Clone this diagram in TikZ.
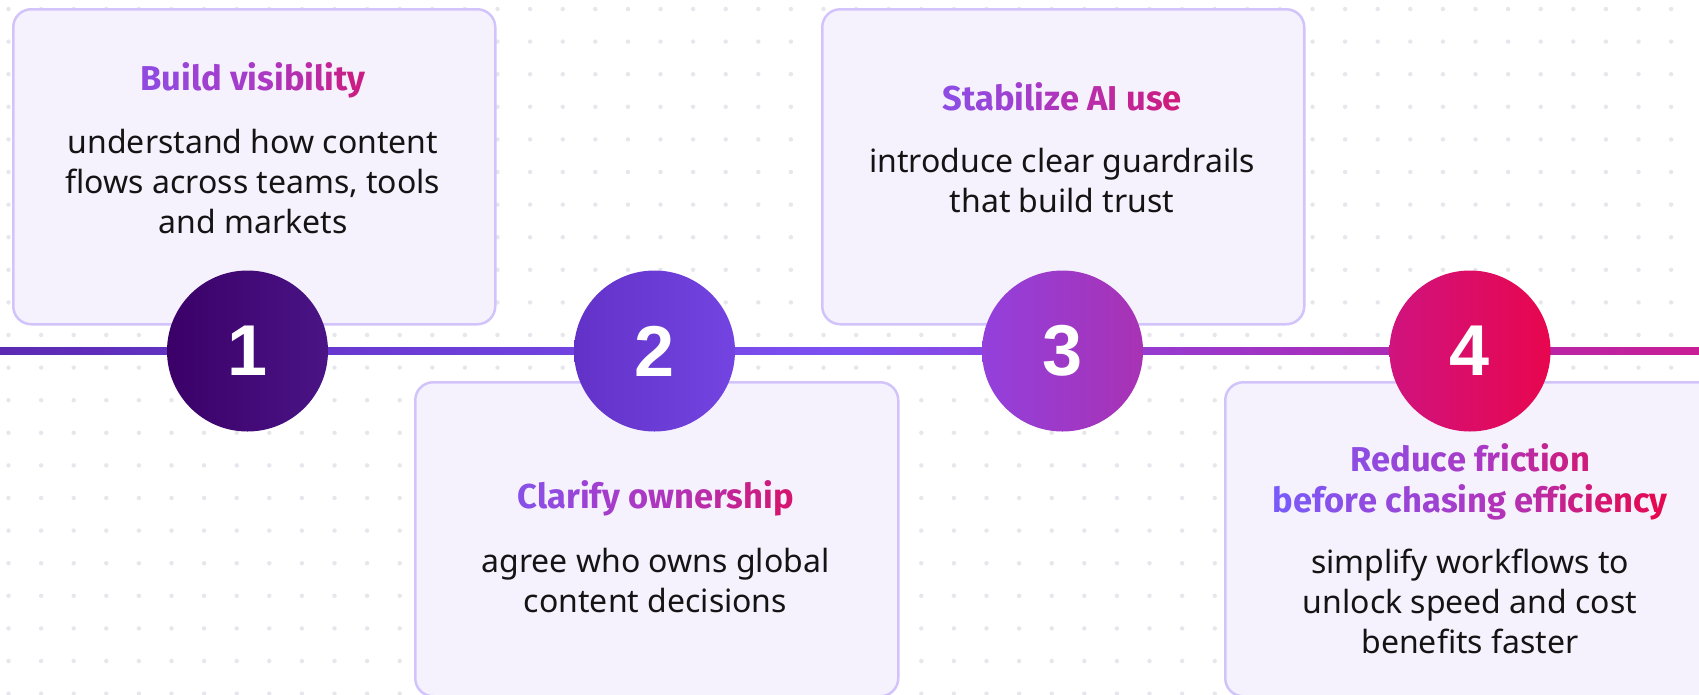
\documentclass[tikz,border=0pt]{standalone}
\usepackage{fontspec}
\setmainfont{Noto Sans}
\newfontfamily\numfont{Liberation Sans}
\newfontfamily\titlefont{Fira Sans}
\definecolor{boxfill}{HTML}{F5F2FE}
\definecolor{boxline}{HTML}{D2C4FB}
\definecolor{dotc}{HTML}{E6E6EC}
\definecolor{bodyc}{HTML}{141414}
\definecolor{gA}{HTML}{7A5AF8}
\definecolor{gM}{HTML}{AC38C4}
\definecolor{gB}{HTML}{E5084F}
\definecolor{ln0}{HTML}{5A2AB3}
\definecolor{ln1}{HTML}{6C3CD6}
\definecolor{ln2}{HTML}{7D50F2}
\definecolor{ln3}{HTML}{A132C2}
\definecolor{ln4}{HTML}{C81E96}
\definecolor{c1l}{HTML}{3B0068}
\definecolor{c1r}{HTML}{4A1486}
\definecolor{c2l}{HTML}{6232C8}
\definecolor{c2r}{HTML}{7444E2}
\definecolor{c3l}{HTML}{9340DC}
\definecolor{c3r}{HTML}{A832B4}
\definecolor{c4l}{HTML}{D0137E}
\definecolor{c4r}{HTML}{E8064E}
\pgfdeclarehorizontalshading{linegrad}{100bp}{color(0bp)=(ln0); color(25bp)=(ln0); color(37.5bp)=(ln1); color(50bp)=(ln2); color(62.5bp)=(ln3); color(75bp)=(ln4); color(100bp)=(ln4)}
\ExplSyntaxOn
\int_new:N \l__gr_i_int
\int_new:N \l__gr_n_int
\int_new:N \l__gr_p_int
\seq_new:N \l__gr_words_seq
\NewDocumentCommand \gradtext { m m m }
  {
    \seq_set_split:Nnn \l__gr_words_seq { ~ } { #3 }
    \int_zero:N \l__gr_n_int
    \seq_map_inline:Nn \l__gr_words_seq
      { \int_add:Nn \l__gr_n_int { \tl_count:n { ##1 } } }
    \int_zero:N \l__gr_i_int
    \seq_map_indexed_inline:Nn \l__gr_words_seq
      {
        \int_compare:nNnT { ##1 } > { 1 } { \c_space_tl }
        \tl_map_inline:nn { ##2 }
          {
            \int_set:Nn \l__gr_p_int
              { \fp_eval:n { round ( #1 + (#2 - #1) * \l__gr_i_int / max(\l__gr_n_int - 1, 1) , 0 ) } }
            \use:x
              {
                \exp_not:N \textcolor
                  {
                    \int_compare:nNnTF { \l__gr_p_int } < { 50 }
                      { gM ! \int_eval:n { 2 * \l__gr_p_int } ! gA }
                      { gB ! \int_eval:n { 2 * \l__gr_p_int - 100 } ! gM }
                  }
                  { \exp_not:n { ####1 } }
              }
            \int_incr:N \l__gr_i_int
          }
      }
  }
\ExplSyntaxOff
\tikzset{
  stepbox/.style={draw=boxline, fill=boxfill, line width=2.5pt, rounded corners=18pt, anchor=north west, inner sep=0pt},
  numcirc/.style={circle, minimum size=161pt, inner sep=0pt, text=white, font=\numfont\bfseries\fontsize{72}{72}\selectfont},
  titletext/.style={inner sep=0pt, anchor=north, align=center, font=\titlefont\bfseries\fontsize{34.5}{39}\selectfont},
  bodytext/.style={inner sep=0pt, anchor=north, align=center, text=bodyc, font=\fontsize{32}{40}\selectfont},
}
\begin{document}
\begin{tikzpicture}[x=1pt,y=-1pt]
\fill[white] (0,0) rectangle (1699,694);
\useasboundingbox (0,0) rectangle (1699,694);
% dot grid
\foreach \i in {0,...,51} {
  \foreach \j in {0,...,21} {
    \fill[dotc] (8.5+32.6*\i, 9+32.6*\j) circle (2.2pt);
  }
}
% boxes
\node[stepbox, minimum width=482pt, minimum height=315pt] (b1) at (12,8) {};
\node[stepbox, minimum width=483pt, minimum height=314pt] (b2) at (414,381) {};
\node[stepbox, minimum width=482pt, minimum height=315pt] (b3) at (821,8) {};
\node[stepbox, minimum width=492pt, minimum height=314pt] (b4) at (1224,381) {};
% timeline
\coordinate (L) at (0,351);
\coordinate (R) at (1699,351);
\shade[shading=linegrad] ([yshift=3.5pt]L) rectangle ([yshift=-3.5pt]R);
% circles
\node[numcirc, left color=c1l, right color=c1r] (n1) at (247.5,351) {1};
\node[numcirc, left color=c2l, right color=c2r] (n2) at (654.5,351) {2};
\node[numcirc, left color=c3l, right color=c3r] (n3) at (1062.5,351) {3};
\node[numcirc, left color=c4l, right color=c4r] (n4) at (1470,351) {4};
% texts box 1
\node[titletext] (h1) at (253,62.7) {\strut\gradtext{23}{77}{Build visibility}};
\node[bodytext] (t1) at (253,125) {\strut understand how content\\flows across teams, tools\\and markets};
% box 3
\node[titletext] (h3) at (1062,82.7) {\strut\gradtext{20}{80}{Stabilize AI use}};
\node[bodytext] (t3) at (1062,144) {\strut introduce clear guardrails\\that build trust};
% box 2
\node[titletext] (h2) at (655.5,480.7) {\strut\gradtext{15}{85}{Clarify ownership}};
\node[bodytext] (t2) at (655.5,544) {\strut agree who owns global\\content decisions};
% box 4
\node[titletext] (h4) at (1470,443.7) {\strut\gradtext{20}{80}{Reduce friction}\\\gradtext{0}{100}{before chasing efficiency}};
\node[bodytext] (t4) at (1470,545) {\strut simplify workflows to\\unlock speed and cost\\benefits faster};
\end{tikzpicture}
\end{document}
